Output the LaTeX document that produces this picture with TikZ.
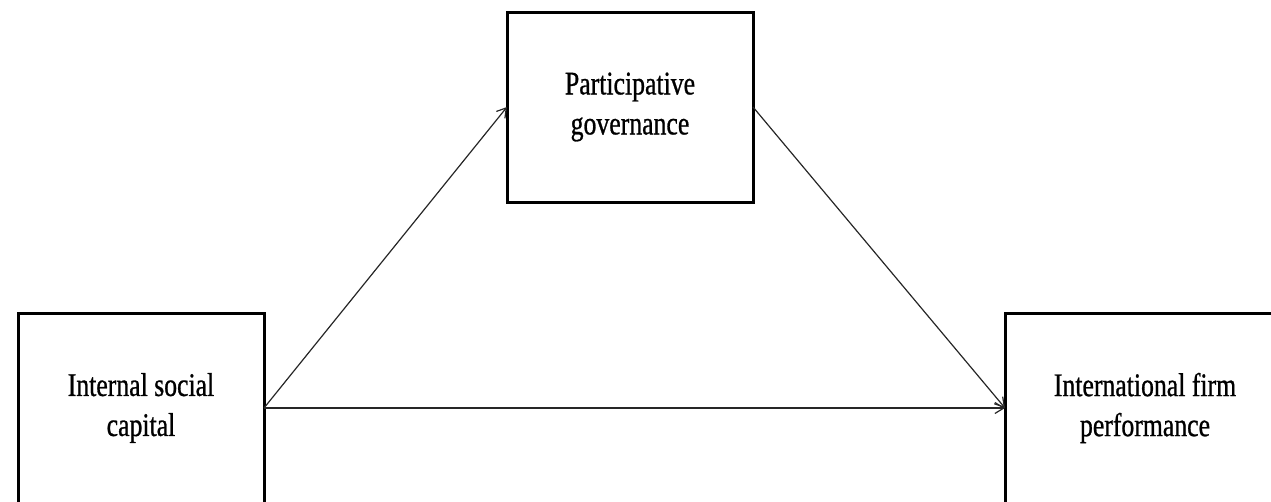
\documentclass[tikz,border=0pt]{standalone}
\usepackage{fontspec}
\setmainfont{Liberation Serif}[FakeStretch=0.78,FakeBold=0.8]
\usetikzlibrary{arrows.meta}
\tikzset{
  box/.style={draw=black, line width=3pt, minimum width=246pt, minimum height=190pt,
    align=center, font=\fontsize{33}{40}\selectfont, inner sep=0pt, outer sep=0pt},
  conn/.style={draw=black!85, line width=1.2pt, -{Straight Barb[length=9pt,width=11pt,line width=1.2pt]}}
}
\begin{document}
\begin{tikzpicture}[x=1pt,y=-1pt]
\useasboundingbox (0,0) rectangle (1271,501);
\node[box] (isc) at (141,408) {Internal social\\capital};
\node[box] (pg) at (630,107) {Participative\\governance};
\node[box, minimum width=280pt] (ifp) at (1145,408) {International firm\\performance};
\draw[conn] (isc.east) -- (pg.west);
\draw[conn] (pg.east) -- (ifp.west);
\draw[conn] (isc.east) -- (ifp.west);
\end{tikzpicture}
\end{document}
